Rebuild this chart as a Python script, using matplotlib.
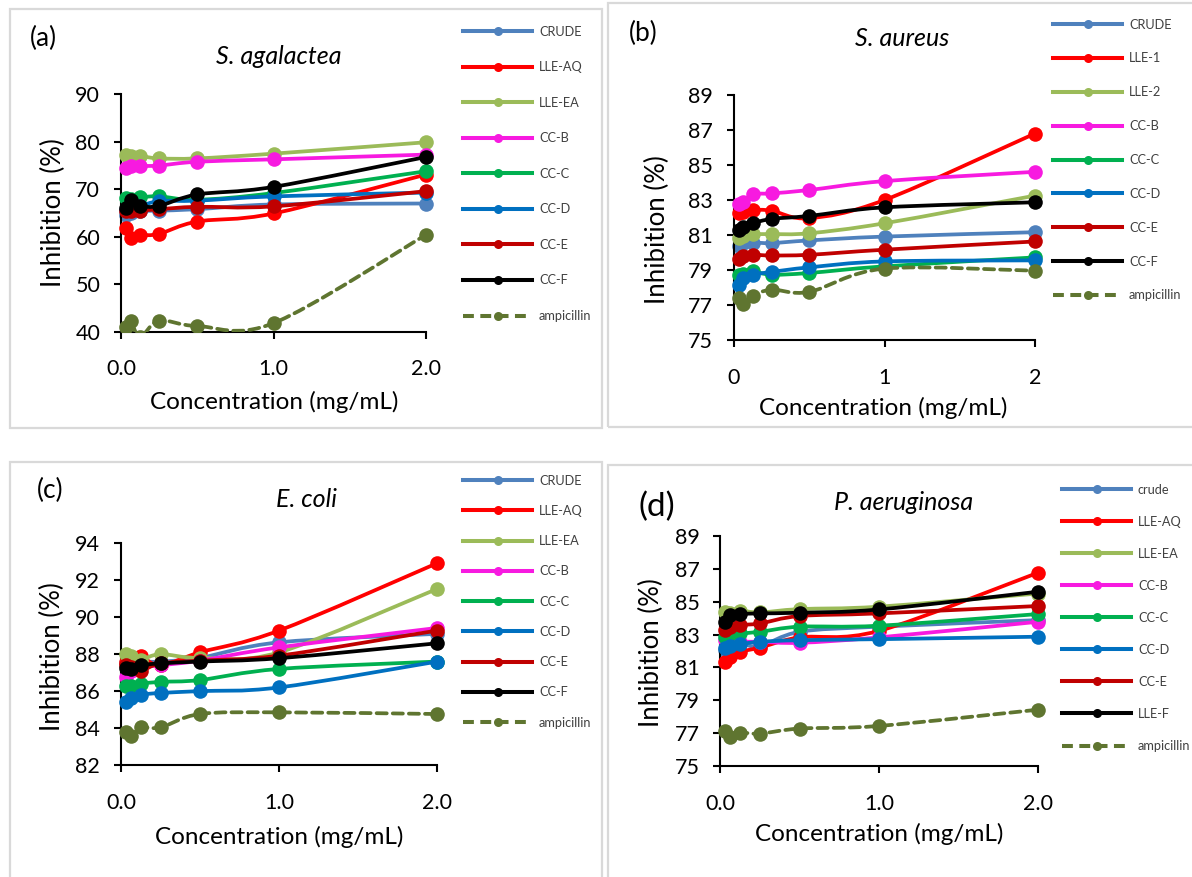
import numpy as np
import matplotlib
matplotlib.use('Agg')
import matplotlib.pyplot as plt
from matplotlib.path import Path
from matplotlib.patches import PathPatch, Rectangle
from matplotlib.lines import Line2D

W, H = 1192, 877
plt.rcParams['font.family'] = ['Lato', 'DejaVu Sans']

## concentrations (mg/mL)
conc = [0.03125, 0.0625, 0.125, 0.25, 0.5, 1.0, 2.0]

## (a) S. agalactea
crude_a = [64.6, 65.0, 65.4, 65.5, 65.8, 66.8, 67.0]
lleaq_a = [61.8, 59.7, 60.3, 60.6, 63.2, 64.9, 73.1]
lleea_a = [77.3, 77.1, 77.0, 76.5, 76.5, 77.5, 79.9]
ccb_a   = [74.4, 74.9, 74.9, 75.0, 75.8, 76.3, 77.3]
ccc_a   = [68.2, 68.0, 68.3, 68.5, 67.8, 69.2, 73.8]
ccd_a   = [65.7, 65.9, 66.4, 67.5, 67.6, 68.5, 69.3]
cce_a   = [65.4, 65.4, 65.5, 65.8, 66.3, 66.4, 69.6]
ccf_a   = [66.1, 67.8, 66.5, 66.5, 68.9, 70.5, 76.8]
amp_a   = [40.9, 42.3, 38.9, 42.3, 41.2, 41.8, 60.4]

## (b) S. aureus
crude_b = [80.40, 80.54, 80.57, 80.54, 80.69, 80.91, 81.16]
lle1_b  = [82.24, 82.34, 82.43, 82.39, 81.96, 83.00, 86.80]
lle2_b  = [80.82, 80.97, 81.05, 81.05, 81.10, 81.67, 83.25]
ccb_b   = [82.75, 82.87, 83.32, 83.38, 83.57, 84.08, 84.61]
ccc_b   = [78.70, 78.77, 78.92, 78.73, 78.83, 79.21, 79.72]
ccd_b   = [78.17, 78.54, 78.73, 78.89, 79.15, 79.49, 79.55]
cce_b   = [79.64, 79.78, 79.87, 79.83, 79.87, 80.16, 80.63]
ccf_b   = [81.29, 81.48, 81.67, 81.92, 82.09, 82.58, 82.87]
amp_b   = [77.41, 77.03, 77.50, 77.88, 77.75, 79.08, 78.96]

## (c) E. coli
crude_c = [87.5, 87.6, 87.6, 87.6, 87.8, 88.64, 89.1]
lleaq_c = [87.6, 87.8, 87.9, 87.4, 88.1, 89.28, 92.93]
lleea_c = [88.0, 87.9, 87.7, 88.0, 87.8, 88.1, 91.54]
ccb_c   = [86.75, 87.1, 87.3, 87.4, 87.65, 88.37, 89.42]
ccc_c   = [86.3, 86.3, 86.4, 86.5, 86.6, 87.2, 87.6]
ccd_c   = [85.4, 85.6, 85.8, 85.9, 86.0, 86.2, 87.6]
cce_c   = [87.4, 87.3, 87.1, 87.5, 87.65, 87.92, 89.28]
ccf_c   = [87.25, 87.2, 87.4, 87.5, 87.6, 87.78, 88.59]
amp_c   = [83.76, 83.58, 84.03, 84.03, 84.76, 84.85, 84.76]

## (d) P. aeruginosa
crude_d = [82.05, 82.30, 82.46, 82.30, 83.17, 83.48, 83.88]
lleaq_d = [81.34, 81.65, 81.95, 82.21, 82.83, 83.23, 86.77]
lleea_d = [84.39, 84.30, 84.45, 84.35, 84.55, 84.70, 85.50]
ccb_d   = [82.66, 82.56, 82.56, 82.56, 82.50, 82.83, 83.78]
ccc_d   = [82.87, 83.03, 83.07, 83.17, 83.48, 83.54, 84.25]
ccd_d   = [82.20, 82.30, 82.42, 82.56, 82.66, 82.72, 82.87]
cce_d   = [83.27, 83.48, 83.58, 83.68, 84.13, 84.29, 84.74]
llef_d  = [83.78, 84.19, 84.25, 84.29, 84.33, 84.53, 85.61]
amp_d   = [77.13, 76.77, 77.03, 76.97, 77.28, 77.44, 78.43]

labels_a = ['CRUDE', 'LLE-AQ', 'LLE-EA', 'CC-B', 'CC-C', 'CC-D', 'CC-E', 'CC-F', 'ampicillin']
labels_b = ['CRUDE', 'LLE-1', 'LLE-2', 'CC-B', 'CC-C', 'CC-D', 'CC-E', 'CC-F', 'ampicillin']
labels_d = ['crude', 'LLE-AQ', 'LLE-EA', 'CC-B', 'CC-C', 'CC-D', 'CC-E', 'LLE-F', 'ampicillin']

colors = ['#4f81bd', '#ff0000', '#9bbb59', '#f71ae0', '#00b050',
          '#0070c0', '#c00000', '#000000', '#5f7530']


def fx(x):
    return x / W


def fy(y):
    return 1 - y / H


def smooth_path(xs, ys):
    # excel style smoothed line (catmull-rom -> cubic bezier)
    pts = np.column_stack([xs, ys]).astype(float)
    n = len(pts)
    verts = [pts[0]]
    codes = [Path.MOVETO]
    for i in range(n - 1):
        p0 = pts[max(i - 1, 0)]
        p1 = pts[i]
        p2 = pts[i + 1]
        p3 = pts[min(i + 2, n - 1)]
        verts += [p1 + (p2 - p0) / 6., p2 - (p3 - p1) / 6., p2]
        codes += [Path.CURVE4] * 3
    return Path(verts, codes)


## positions are in pixels from the top left of the picture
panels = [
    dict(box=(9.6, 9, 602, 428), ax=(121, 94.3, 426, 331.7), ylim=(40, 90), ystep=10,
         xfmt='%.1f', tag='(a)', tagxy=(43, 38), tagsize=19, title='S. agalactea', titlexy=(279, 57),
         series=[crude_a, lleaq_a, lleea_a, ccb_a, ccc_a, ccd_a, cce_a, ccf_a, amp_a],
         labels=labels_a, leg=(463, 30, 35.3), xlab=(274, 402), ylab=(53, 213)),
    dict(box=(608.3, 3, 1196, 427), ax=(734, 95, 1035, 340), ylim=(75, 89), ystep=2,
         xfmt='%d', tag='(b)', tagxy=(643, 33), tagsize=19, title='S. aureus', titlexy=(902, 39),
         series=[crude_b, lle1_b, lle2_b, ccb_b, ccc_b, ccd_b, cce_b, ccf_b, amp_b],
         labels=labels_b, leg=(1053, 23, 33.6), xlab=(883, 408), ylab=(657, 230)),
    dict(box=(9.6, 462, 602, 880), ax=(121, 543.3, 437.4, 765), ylim=(82, 94), ystep=2,
         xfmt='%.1f', tag='(c)', tagxy=(50, 490), tagsize=19, title='E. coli', titlexy=(306, 499),
         series=[crude_c, lleaq_c, lleea_c, ccb_c, ccc_c, ccd_c, cce_c, ccf_c, amp_c],
         labels=labels_a, leg=(463, 479, 30.0), xlab=(279, 837), ylab=(52, 657)),
    dict(box=(608.3, 465, 1196, 880), ax=(720.3, 536, 1038.2, 766), ylim=(75, 89), ystep=2,
         xfmt='%.1f', tag='(d)', tagxy=(657, 507), tagsize=24, title='P. aeruginosa', titlexy=(904, 503),
         series=[crude_d, lleaq_d, lleea_d, ccb_d, ccc_d, ccd_d, cce_d, llef_d, amp_d],
         labels=labels_d, leg=(1062, 488, 31.8), xlab=(879, 834), ylab=(651, 653)),
]

fig = plt.figure(figsize=(W / 100., H / 100.), dpi=100)

legfs = 9.2
legpx = legfs * 100 / 72.
rowh = 0.92 * legpx   # height of one legend text row in px
for p in panels:
    # grey frame round each panel
    bx0, by0, bx1, by1 = p['box']
    fig.patches.append(Rectangle((fx(bx0), fy(by1)), fx(bx1) - fx(bx0), fy(by0) - fy(by1),
                                 transform=fig.transFigure, fill=False, ec='#d9d9d9', lw=1.6))

    l, t, r, b = p['ax']
    ax = fig.add_axes([fx(l), fy(b), fx(r) - fx(l), fy(t) - fy(b)])
    clip = Rectangle((-0.1, 0), 1.2, 1.2, transform=ax.transAxes)

    handles = []
    for i, (vals, col, lab) in enumerate(zip(p['series'], colors, p['labels'])):
        ls = (0, (2.7, 1.6)) if lab == 'ampicillin' else '-'
        patch = PathPatch(smooth_path(conc, vals), fill=False, ec=col, lw=2.7, ls=ls,
                          capstyle='round', joinstyle='round', zorder=2 + i)
        ax.add_patch(patch)
        patch.set_clip_path(clip)
        mk, = ax.plot(conc, vals, 'o', color=col, ms=10.5, mew=0, zorder=2 + i)
        mk.set_clip_path(clip)
        handles.append(Line2D([], [], color=col, lw=2.9, ls=ls, marker='o', ms=6.5, mew=0))

    ax.set_xlim(0, 2)
    ax.set_ylim(*p['ylim'])
    ax.set_xticks([0, 1, 2])
    ax.set_xticklabels([p['xfmt'] % v for v in [0, 1, 2]])
    ax.set_yticks(np.arange(p['ylim'][0], p['ylim'][1] + 0.1, p['ystep']))
    for s in ['top', 'right']:
        ax.spines[s].set_visible(False)
    for s in ['left', 'bottom']:
        ax.spines[s].set_linewidth(1.5)
    ax.tick_params(axis='both', direction='out', length=5, width=1.5, labelsize=15.5)
    ax.tick_params(axis='y', pad=10)
    ax.tick_params(axis='x', pad=15)
    ax.patch.set_alpha(0)

    ax.set_xlabel('Concentration (mg/mL)', fontsize=17.5, va='center')
    ax.xaxis.set_label_coords(fx(p['xlab'][0]), fy(p['xlab'][1]), transform=fig.transFigure)
    ax.set_ylabel('Inhibition (%)', fontsize=18.5, va='center')
    ax.yaxis.set_label_coords(fx(p['ylab'][0]), fy(p['ylab'][1]), transform=fig.transFigure)

    fig.text(fx(p['titlexy'][0]), fy(p['titlexy'][1]), p['title'], style='italic',
             fontsize=18, ha='center', va='center')
    fig.text(fx(p['tagxy'][0]), fy(p['tagxy'][1]), p['tag'], fontsize=p['tagsize'],
             ha='center', va='center')

    lx, ly, dy = p['leg']
    ax.legend(handles, p['labels'], loc='upper left',
              bbox_to_anchor=(fx(lx), fy(ly - rowh / 2 + 1.5)), bbox_transform=fig.transFigure,
              frameon=False, borderpad=0, borderaxespad=0, fontsize=legfs,
              handlelength=69 / legpx, handletextpad=7 / legpx,
              labelspacing=(dy - rowh) / legpx, labelcolor='#404040')

fig.savefig('out.png', dpi=100)
